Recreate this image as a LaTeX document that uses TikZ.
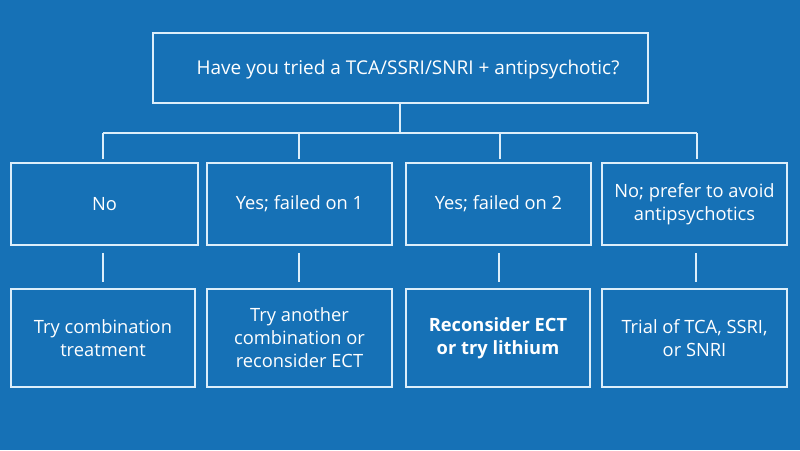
\documentclass[tikz,border=0pt]{standalone}
\usepackage{fontspec}
\setmainfont{Open Sans}
\definecolor{bg}{HTML}{1671B6}
\definecolor{ln}{HTML}{DCEEFA}
\begin{document}
\begin{tikzpicture}[x=1pt,y=-1pt,
  box/.style={draw=ln,line width=1.6pt,text=white,align=center,inner sep=0pt,font=\fontsize{18.3}{23}\selectfont},
  conn/.style={draw=ln,line width=1.6pt}]
\fill[bg] (0,0) rectangle (800,450);
\useasboundingbox (0,0) rectangle (800,450);
% top box
\draw[conn] (153,33) rectangle (648,103);
\node[text=white,font=\fontsize{19}{23}\selectfont] (top) at (408,70) {Have you tried a TCA/SSRI/SNRI + antipsychotic?};
\coordinate (ts) at (400,103);
% middle boxes
\node[box,minimum width=187pt,minimum height=82pt] (m1) at (104.5,204) {No};
\node[box,minimum width=185pt,minimum height=82pt] (m2) at (299.5,204) {Yes; failed on 1};
\node[box,minimum width=185pt,minimum height=82pt] (m3) at (498.5,204) {Yes; failed on 2};
\node[box,minimum width=185pt,minimum height=82pt] (m4) at (694.5,204) {No; prefer to avoid\\antipsychotics};
% bottom boxes
\node[box,minimum width=184pt,minimum height=98pt] (b1) at (103,338) {Try combination\\treatment};
\node[box,minimum width=185pt,minimum height=98pt] (b2) at (299.5,338) {Try another\\combination or\\reconsider ECT};
\node[box,minimum width=184pt,minimum height=98pt,font=\fontsize{18.3}{23}\selectfont\bfseries] (b3) at (498,338) {Reconsider ECT\\or try lithium};
\node[box,minimum width=185pt,minimum height=98pt] (b4) at (694.5,338) {Trial of TCA, SSRI,\\or SNRI};
% connectors
\coordinate (j1) at (103,133);
\coordinate (j2) at (299,133);
\coordinate (j3) at (500,133);
\coordinate (j4) at (697,133);
\coordinate (jc) at (400,133);
\draw[conn] (ts) -- (jc);
\draw[conn] (j1) -- (j4);
\draw[conn] (j1) -- ([yshift=3pt]j1 |- m1.north);
\draw[conn] (j2) -- ([yshift=3pt]j2 |- m2.north);
\draw[conn] (j3) -- ([yshift=3pt]j3 |- m3.north);
\draw[conn] (j4) -- ([yshift=3pt]j4 |- m4.north);
\draw[conn] ([yshift=-7pt]j1 |- m1.south) -- ([yshift=6pt]j1 |- b1.north);
\draw[conn] ([yshift=-7pt]j2 |- m2.south) -- ([yshift=6pt]j2 |- b2.north);
\draw[conn] ([yshift=-7pt]499,0 |- m3.south) -- ([yshift=6pt]499,0 |- b3.north);
\draw[conn] ([yshift=-7pt]696,0 |- m4.south) -- ([yshift=6pt]696,0 |- b4.north);
\end{tikzpicture}
\end{document}
